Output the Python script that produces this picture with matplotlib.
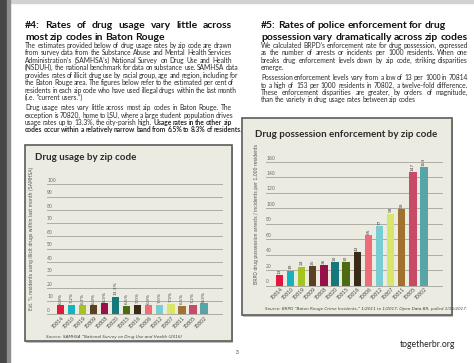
import matplotlib
matplotlib.use("Agg")
import matplotlib.pyplot as plt
import matplotlib.transforms as mtransforms
from matplotlib.patches import Rectangle

W, H = 474, 363

# ---- data ----
zips = ["70814", "70810", "70819", "70809", "70808", "70820", "70815",
        "70816", "70806", "70812", "70807", "70811", "70805", "70802"]
usage = [6.9, 7.2, 6.7, 6.9, 8.3, 13.3, 6.5, 7.0, 6.9, 7.0, 7.9, 6.5, 7.2, 8.3]
enforcement = [13, 19, 24, 25, 26, 30, 30, 43, 65, 77, 93, 99, 147, 153]
usage_ticks = [0, 10, 20, 30, 40, 50, 60, 70, 80, 90, 100]
enf_ticks = [0, 20, 40, 60, 80, 100, 120, 140, 160]
bar_colors = ["#e2163e", "#13b4bd", "#a4c420", "#5b4124", "#98104a", "#16787a",
              "#4e6a12", "#3a2a18", "#f06b78", "#77cdd2", "#d8e66b", "#a0712f",
              "#c84a66", "#58a5a8"]

left_title = ["#4: Rates of drug usage vary little across",
              "most zip codes in Baton Rouge"]
right_title = ["#5: Rates of police enforcement for drug",
               "possession vary dramatically across zip codes"]

# (text, index of first bold word or None, justified?)
left_par1 = [
    ("The estimates provided below of drug usage rates by zip code are drawn", None, True),
    ("from survey data from the Substance Abuse and Mental Health Services", None, True),
    ("Administration\u2019s (SAMHSA\u2019s) National Survey on Drug Use and Health", None, True),
    ("(NSDUH), the national benchmark for data on substance use. SAMHSA data", None, True),
    ("provides rates of illicit drug use by racial group, age and region, including for", None, True),
    ("the Baton Rouge area. The figures below refer to the estimated per cent of", None, True),
    ("residents in each zip code who have used illegal drugs within the last month", None, True),
    ("(i.e. \u201ccurrent users.\u201d)", None, False),
]
left_par2 = [
    ("Drug usage rates vary little across most zip codes in Baton Rouge. The", None, True),
    ("exception is 70820, home to LSU, where a large student population drives", None, True),
    ("usage rates up to 13.3%, the city-parish high. Usage rates in the other zip", 8, True),
    ("codes occur within a relatively narrow band from 6.5% to 8.3% of residents.", 0, True),
]
right_par1 = [
    ("We calculated BRPD\u2019s enforcement rate for drug possession, expressed", None, True),
    ("as the number of arrests or incidents per 1000 residents. When one", None, True),
    ("breaks drug enforcement levels down by zip code, striking disparities", None, True),
    ("emerge.", None, False),
]
right_par2 = [
    ("Possession enforcement levels vary from a low of 13 per 1000 in 70814", None, True),
    ("to a high of 153 per 1000 residents in 70802, a twelve-fold difference.", None, True),
    ("These enforcement disparities are greater, by orders of magnitude,", None, True),
    ("than the variety in drug usage rates between zip codes", None, False),
]

fig = plt.figure(figsize=(W / 100, H / 100), dpi=100)
fig.patch.set_facecolor("white")
PX = mtransforms.Affine2D().scale(1 / W, -1 / H).translate(0, 1) + fig.transFigure
renderer = fig.canvas.get_renderer()

# page frame
fig.patches.append(Rectangle((0, 0), W, 3, transform=PX, color="#d2d2d2", zorder=0))
fig.patches.append(Rectangle((0, 0), 7, H, transform=PX, color="#474747", zorder=1))
fig.patches.append(Rectangle((7, 0), 3, H, transform=PX, color="#8e8e8e", zorder=1))

BODY = "Lato"


def text_lines(lines, x0, x1, y0, step, size, weight="normal", color="#2a2a2a"):
    space = 0.2 * size * 100 / 72
    for k, (line, bold_from, justify) in enumerate(lines):
        y = round(y0 + k * step)  # whole-pixel baseline keeps words aligned
        words = line.split(" ")
        objs = []
        for i, w in enumerate(words):
            wt = "bold" if (bold_from is not None and i >= bold_from) else weight
            t = fig.text(0, 0, w, transform=PX, fontsize=size, family=BODY,
                         fontweight=wt, color=color, va="baseline", ha="left")
            objs.append((t, t.get_window_extent(renderer).width))
        total = sum(wd for _, wd in objs)
        gap = space
        if justify and len(objs) > 1:
            gap = max((x1 - x0 - total) / (len(objs) - 1), space * 0.8)
        x = x0
        for t, wd in objs:
            t.set_position((x, y))
            x += wd + gap


# headings
text_lines([(left_title[0], None, True), (left_title[1], None, False)],
           25, 232, 28, 12, 7.5, weight="bold", color="#111111")
text_lines([(right_title[0], None, False), (right_title[1], None, False)],
           261, 468, 28, 12, 7.5, weight="bold", color="#111111")

# body text
text_lines(left_par1, 25, 232, 47.6, 7.5, 4.75)
text_lines(left_par2, 25, 232, 110, 7.5, 4.75)
text_lines(right_par1, 261, 468, 47.6, 7.5, 4.75)
text_lines(right_par2, 261, 468, 80, 7.5, 4.75)


def chart(box, title, title_xy, gx, gy, values, ticks, labels_fmt, ylabel, ylab_xy,
          source, source_xy):
    bx0, by0, bx1, by1 = box
    fig.patches.append(Rectangle((bx0 + 1.5, by0 + 1.5), bx1 - bx0, by1 - by0, transform=PX,
                                 facecolor="#bdbdbd", edgecolor="none", zorder=2))
    fig.patches.append(Rectangle((bx0, by0), bx1 - bx0, by1 - by0, transform=PX,
                                 facecolor="#ecebe2", edgecolor="#5b5b5b", lw=1.2, zorder=2))
    fig.text(title_xy[0], title_xy[1], title, transform=PX, fontsize=7.0,
             family=BODY, fontweight="bold", color="#2b2b2b", va="baseline", ha="left",
             zorder=4)
    x0, x1 = gx
    y_top, y_bot = gy
    ax = fig.add_axes([x0 / W, 1 - y_bot / H, (x1 - x0) / W, (y_bot - y_top) / H])
    ax.set_zorder(3)
    ax.set_axis_off()
    n = len(values)
    pos = list(range(n))
    ax.set_xlim(-1.2, n - 1 + 1.62)
    ax.set_ylim(0, ticks[-1])
    trans = mtransforms.blended_transform_factory(ax.transAxes, ax.transData)
    for t in ticks:
        ax.plot([0, 1], [t, t], transform=trans, color="#aeada4", lw=0.7, zorder=1,
                clip_on=False)
        ax.text(0.0, t, str(t), transform=mtransforms.offset_copy(trans, fig, y=1.5, units="dots"),
                fontsize=3.3, color="#6a6a6a", ha="left", va="bottom", family="DejaVu Sans")
    ax.bar(pos, values, width=0.66, color=bar_colors, zorder=3)
    above = mtransforms.offset_copy(ax.transData, fig, y=1.5, units="dots")
    below = mtransforms.offset_copy(ax.transData, fig, x=2.5, y=-3, units="dots")
    for i, v in enumerate(values):
        ax.text(i, v, labels_fmt.format(v), transform=above, rotation=90, fontsize=3.2,
                color="#444444", ha="center", va="bottom")
        ax.text(i, 0, zips[i], transform=below, rotation=45, rotation_mode="anchor",
                fontsize=3.4, color="#444444", ha="right", va="center")
    fig.text(ylab_xy[0], ylab_xy[1], ylabel, transform=PX, rotation=90,
             rotation_mode="anchor", fontsize=3.3, color="#555555", ha="left", va="center",
             zorder=4)
    fig.text(source_xy[0], source_xy[1], source, transform=PX, fontsize=3.0,
             style="italic", color="#444444", ha="left", va="baseline", zorder=4)


chart((25, 145, 232, 341), "Drug usage by zip code", (35, 160), (47, 222), (184, 314),
      usage, usage_ticks, "{:.1f}%",
      "Est. % residents using illicit drugs within last month (SAMHSA)", (31, 310),
      "Source: SAMHSA \u201cNational Survey on Drug Use and Health (2016)", (46, 338))

chart((242, 118, 452, 315), "Drug possession enforcement by zip code", (255, 137),
      (266, 442), (162, 285.5), enforcement, enf_ticks, "{}",
      "BRPD drug possession arrests / incidents per 1,000 residents", (257, 284),
      "Source: BRPD \u201cBaton Rouge Crime Incidents,\u201d 1/2011 to 1/2017, Open Data BR, pulled 1/16/2017.",
      (265, 310))

fig.text(455, 347, "togetherbr.org", transform=PX, fontsize=6.2, family=BODY,
         color="#222222", ha="right", va="baseline")
fig.text(237, 354, "3", transform=PX, fontsize=3.5, family=BODY, color="#333333",
         ha="center", va="baseline")

fig.savefig("out.png", dpi=100)
